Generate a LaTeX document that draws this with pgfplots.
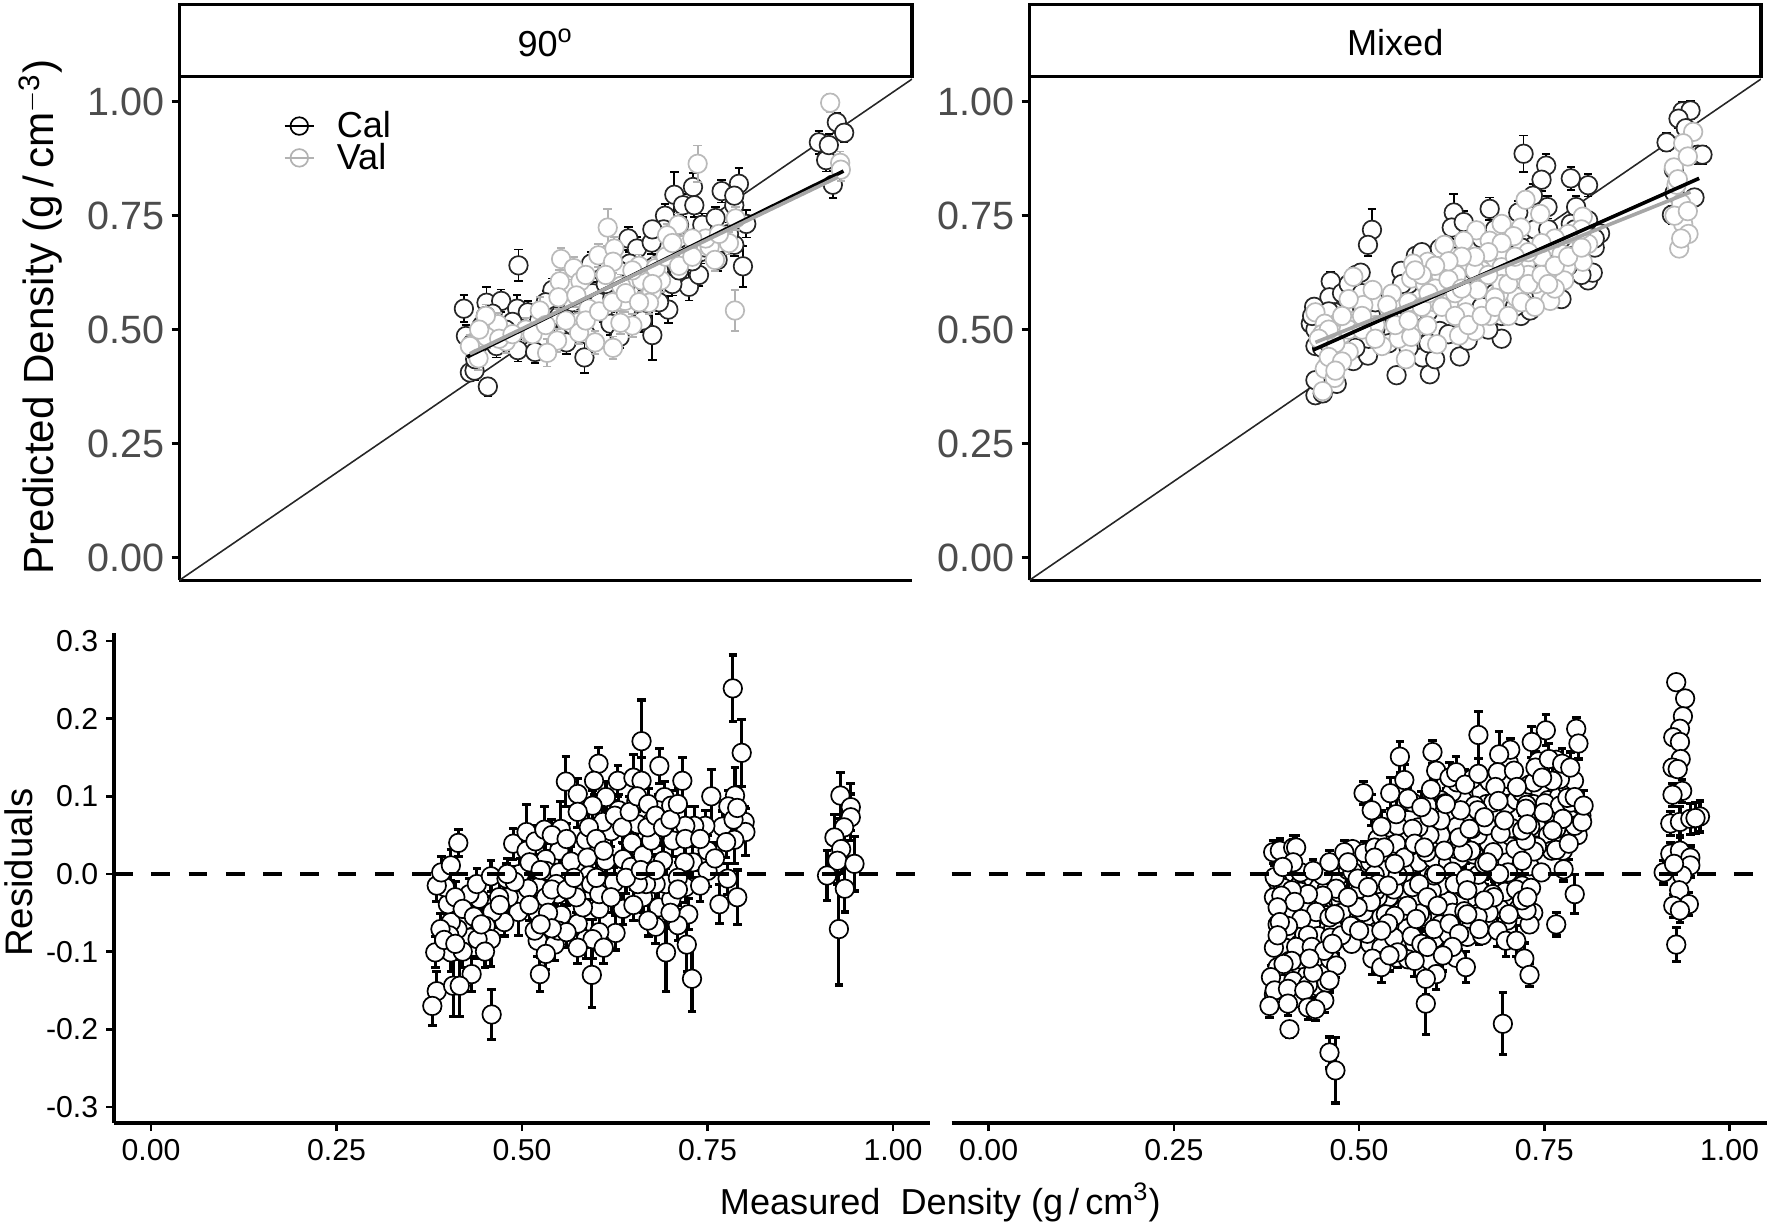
\documentclass[border=0pt]{standalone}
\usepackage{pgfplots}
\usepackage{pgfplotstable}
\usepackage{fontspec}
\setmainfont{Liberation Sans}
\pgfplotsset{compat=1.18}

% measured, predicted, error
\pgfplotstableread[row sep=crcr,header=false]{
.937 .955 .02\\ .948 .932 .02\\ .910 .911 .025\\ .921 .872 .025\\ .931 .818 .03\\ .790 .82 .035\\ .764 .804 .025\\
.693 .796 .05\\ .721 .813 .03\\ .706 .773 .025\\ .723 .773 .025\\ .679 .75 .025\\ .783 .773 .03\\ .801 .732 .03\\
.796 .639 .045\\ .715 .594 .03\\ .684 .544 .03\\ .660 .488 .055\\ .558 .439 .035\\ .624 .70 .025\\ .637 .678 .025\\
.659 .691 .025\\ .459 .641 .035\\ .377 .546 .03\\ .411 .559 .035\\ .433 .563 .025\\ .457 .546 .03\\ .473 .538 .025\\
.450 .517 .025\\ .404 .509 .025\\ .380 .486 .025\\ .386 .406 .02\\ .393 .41 .02\\ .413 .375 .02\\ .394 .435 .02\\
.426 .464 .025\\ .458 .455 .025\\ .484 .451 .025\\ .583 .629 .025\\ .568 .645 .025\\ .586 .542 .025\\ .597 .513 .025\\
.611 .484 .025\\ .746 .72 .025\\ .783 .794 .03\\ .710 .67 .025\\ .732 .67 .025\\ .758 .653 .025\\ .783 .686 .025\\
.510 .587 .025\\ .524 .488 .025\\ .531 .472 .025\\ .553 .521 .025\\ .626 .645 .025\\ .663 .62 .025\\ .692 .645 .025\\
.677 .72 .025\\ .700 .70 .025\\ .735 .73 .025\\ .755 .745 .025\\ .775 .71 .025\\ .44 .50 .025\\ .42 .535 .025\\
.39 .47 .025\\ .50 .56 .025\\ .515 .53 .025\\ .54 .56 .025\\ .57 .58 .025\\ .60 .60 .025\\ .64 .58 .025\\ .67 .56 .025\\
.62 .54 .025\\ .645 .52 .025\\ .69 .60 .025\\ .73 .62 .025\\ .925 .905 .025\\
.41 .53 .025\\ .40 .47 .025\\ .43 .49 .025\\ .47 .50 .025\\ .49 .52 .025\\ .52 .53 .025\\ .54 .51 .025\\ .56 .49 .025\\
.58 .56 .025\\ .60 .57 .025\\ .61 .63 .025\\ .65 .60 .025\\ .67 .63 .025\\ .70 .63 .025\\ .72 .65 .025\\ .74 .68 .025\\
.76 .69 .025\\ .70 .73 .025\\ .66 .72 .025\\ .62 .60 .025\\ .59 .60 .025\\
}\calA
\pgfplotstableread[row sep=crcr,header=false]{
.927 .998 .02\\ .728 .864 .04\\ .942 .866 .025\\ .943 .851 .025\\ .784 .542 .045\\ .593 .724 .04\\ .523 .655 .025\\
.542 .635 .025\\ .579 .663 .025\\ .603 .678 .025\\ .601 .649 .025\\ .521 .606 .025\\ .552 .606 .025\\ .519 .571 .025\\
.546 .575 .025\\ .613 .596 .025\\ .644 .608 .025\\ .673 .608 .025\\ .659 .583 .025\\ .619 .563 .025\\ .655 .559 .025\\
.699 .73 .025\\ .682 .707 .025\\ .746 .682 .025\\ .775 .69 .025\\ .785 .744 .025\\ .754 .653 .025\\ .564 .546 .025\\
.550 .517 .025\\ .550 .493 .025\\ .517 .476 .025\\ .574 .472 .025\\ .601 .46 .025\\ .630 .509 .025\\ .612 .515 .025\\
.502 .449 .03\\ .491 .542 .03\\ .428 .512 .025\\ .411 .484 .025\\ .386 .464 .025\\ .399 .437 .025\\ .440 .474 .025\\
.47 .50 .025\\ .41 .53 .025\\ .64 .64 .025\\ .665 .635 .025\\
.40 .50 .025\\ .43 .48 .025\\ .45 .49 .025\\ .48 .49 .025\\ .50 .51 .025\\ .53 .52 .025\\ .56 .52 .025\\ .58 .54 .025\\
.60 .56 .025\\ .62 .58 .025\\ .64 .56 .025\\ .66 .60 .025\\ .68 .66 .025\\ .70 .64 .025\\ .72 .66 .025\\ .74 .70 .025\\
.76 .71 .025\\ .72 .70 .025\\ .69 .69 .025\\ .63 .63 .025\\ .59 .62 .025\\ .56 .62 .025\\
}\valA
\pgfplotstableread[row sep=crcr,header=false]{
.465 .719 .045\\ .459 .686 .025\\ .693 .886 .04\\ .727 .86 .025\\ .720 .829 .025\\ .764 .832 .025\\ .790 .817 .025\\
.588 .757 .04\\ .642 .765 .025\\ .585 .724 .025\\ .603 .736 .025\\ .685 .757 .025\\ .729 .769 .025\\ .772 .769 .025\\
.707 .794 .025\\ .932 .979 .02\\ .944 .981 .02\\ .926 .963 .02\\ .908 .911 .02\\ .937 .942 .02\\ .955 .884 .02\\
.962 .884 .02\\ .919 .851 .02\\ .926 .752 .02\\ .916 .752 .02\\ .93 .76 .02\\ .403 .606 .02\\ .401 .571 .02\\
.441 .62 .02\\ .448 .625 .02\\ .378 .55 .02\\ .373 .513 .02\\ .423 .542 .02\\ .409 .538 .02\\ .380 .464 .02\\
.380 .356 .02\\ .391 .36 .02\\ .412 .381 .02\\ .437 .431 .02\\ .459 .443 .02\\ .380 .389 .02\\ .502 .4 .02\\
.552 .402 .02\\ .597 .441 .02\\ .541 .439 .02\\ .560 .435 .02\\ .660 .48 .03\\ .689 .53 .025\\ .703 .542 .02\\
.750 .567 .02\\ .790 .608 .025\\ .797 .625 .02\\ .808 .711 .02\\ .764 .732 .02\\ .509 .629 .02\\ .531 .662 .02\\
.552 .653 .02\\ .725 .637 .02\\ .711 .587 .02\\ .567 .497 .02\\ .609 .476 .02\\ .437 .517 .02\\ .768 .678 .02\\
.653 .645 .02\\ .617 .62 .02\\ .567 .678 .02\\ .52 .60 .02\\ .50 .52 .02\\ .47 .50 .02\\ .53 .50 .02\\ .58 .56 .02\\
.63 .55 .02\\ .65 .58 .02\\ .70 .60 .02\\ .74 .63 .02\\ .78 .65 .02\\ .80 .68 .02\\ .76 .70 .02\\ .92 .80 .02\\ .95 .79 .02\\
.40 .54 .02\\ .39 .50 .02\\ .42 .58 .02\\ .43 .60 .02\\ .45 .58 .02\\ .47 .56 .02\\ .49 .54 .02\\ .51 .56 .02\\ .53 .54 .02\\
.55 .54 .02\\ .57 .62 .02\\ .59 .66 .02\\ .61 .68 .02\\ .63 .70 .02\\ .65 .72 .02\\ .67 .70 .02\\ .69 .68 .02\\ .71 .72 .02\\
.73 .72 .02\\ .75 .70 .02\\ .77 .72 .02\\ .79 .74 .02\\ .80 .70 .02\\ .78 .62 .02\\ .76 .64 .02\\ .72 .58 .02\\ .68 .55 .02\\
.66 .53 .02\\ .64 .50 .02\\ .61 .52 .02\\ .58 .49 .02\\ .55 .47 .02\\ .52 .46 .02\\ .49 .47 .02\\ .46 .48 .02\\ .44 .46 .02\\
.42 .44 .02\\ .40 .43 .02\\ .39 .46 .02\\ .41 .50 .02\\ .38 .50 .02\\ .375 .53 .02\\ .40 .47 .02\\ .545 .62 .02\\ .53 .62 .02\\
.51 .60 .02\\ .54 .67 .02\\ .60 .60 .02\\ .65 .64 .02\\ .69 .61 .02\\ .74 .68 .02\\ .78 .70 .02\\ .66 .67 .02\\
}\calB
\pgfplotstableread[row sep=crcr,header=false]{
.948 .934 .02\\ .933 .909 .02\\ .919 .856 .02\\ .923 .818 .02\\ .930 .777 .02\\ .933 .732 .02\\ .941 .71 .02\\
.927 .678 .02\\ .696 .785 .02\\ .718 .754 .02\\ .622 .718 .02\\ .660 .732 .02\\ .689 .724 .02\\ .678 .705 .02\\
.642 .695 .02\\ .603 .695 .02\\ .574 .686 .02\\ .782 .748 .02\\ .790 .688 .02\\ .782 .649 .02\\ .757 .637 .02\\
.75 .666 .02\\ .754 .608 .02\\ .711 .6 .02\\ .733 .563 .02\\ .682 .571 .02\\ .656 .579 .02\\ .642 .53 .02\\
.620 .497 .02\\ .596 .487 .02\\ .563 .468 .02\\ .548 .509 .02\\ .606 .538 .02\\ .581 .559 .02\\ .567 .608 .02\\
.549 .649 .02\\ .527 .645 .02\\ .524 .612 .02\\ .545 .6 .02\\ .606 .645 .02\\ .592 .62 .02\\ .624 .587 .02\\
.660 .637 .02\\ .696 .645 .02\\ .495 .579 .02\\ .488 .554 .02\\ .452 .554 .02\\ .466 .587 .02\\ .430 .567 .02\\
.437 .616 .02\\ .380 .538 .02\\ .412 .513 .02\\ .394 .513 .02\\ .409 .447 .02\\ .430 .451 .02\\ .394 .414 .02\\
.409 .394 .02\\ .391 .365 .02\\ .516 .435 .02\\ .505 .48 .02\\ .480 .464 .02\\ .524 .484 .02\\ .72 .66 .02\\ .70 .62 .02\\
.74 .59 .02\\ .66 .60 .02\\ .63 .63 .02\\ .59 .58 .02\\ .56 .56 .02\\ .52 .56 .02\\ .47 .51 .02\\ .44 .52 .02\\ .42 .49 .02\\
.39 .49 .02\\ .41 .47 .02\\ .43 .50 .02\\ .45 .50 .02\\ .47 .48 .02\\ .50 .51 .02\\ .52 .52 .02\\ .54 .55 .02\\ .56 .59 .02\\
.58 .61 .02\\ .60 .59 .02\\ .62 .63 .02\\ .64 .62 .02\\ .65 .57 .02\\ .67 .60 .02\\ .68 .63 .02\\ .70 .60 .02\\ .72 .62 .02\\
.74 .64 .02\\ .76 .66 .02\\ .78 .68 .02\\ .78 .72 .02\\ .76 .71 .02\\ .74 .70 .02\\ .72 .69 .02\\ .70 .67 .02\\ .68 .66 .02\\
.66 .69 .02\\ .64 .67 .02\\ .62 .66 .02\\ .60 .66 .02\\ .58 .65 .02\\ .56 .64 .02\\ .54 .62 .02\\ .53 .63 .02\\ .55 .58 .02\\
.57 .55 .02\\ .59 .53 .02\\ .61 .51 .02\\ .63 .53 .02\\ .65 .55 .02\\ .67 .53 .02\\ .69 .56 .02\\ .71 .55 .02\\ .73 .60 .02\\
.45 .53 .02\\ .42 .53 .02\\ .40 .50 .02\\ .385 .48 .02\\ .40 .44 .02\\ .42 .43 .02\\ .41 .41 .02\\ .92 .75 .02\\ .94 .76 .02\\
.93 .70 .02\\ .925 .83 .02\\ .94 .88 .02\\
}\valB
% measured, residual, error
\pgfplotstableread[row sep=crcr,header=false]{
.784 .239 .043\\ .796 .156 .043\\ .661 .171 .053\\ .603 .142 .021\\ .685 .139 .023\\ .559 .119 .032\\ .575 .103 .02\\
.597 .12 .018\\ .629 .12 .02\\ .650 .124 .03\\ .661 .12 .03\\ .716 .12 .03\\ .613 .099 .02\\ .630 .082 .02\\ .654 .094 .02\\
.595 .088 .02\\ .675 .067 .02\\ .692 .099 .02\\ .683 .082 .02\\ .701 .088 .02\\ .755 .1 .035\\ .787 .101 .036\\ .778 .087 .02\\
.800 .067 .02\\ .801 .054 .03\\ .770 .061 .02\\ .747 .062 .02\\ .732 .062 .025\\ .720 .062 .025\\ .786 .044 .03\\ .775 .041 .02\\
.750 .03 .02\\ .730 .015 .02\\ .719 .015 .02\\ .750 .004 .02\\ .777 -.006 .02\\ .790 -.03 .035\\ .766 -.039 .025\\ .720 -.017 .02\\
.724 -.052 .02\\ .710 -.066 .02\\ .722 -.091 .035\\ .729 -.135 .042\\ .694 -.101 .05\\ .680 -.068 .022\\ .684 -.043 .02\\
.701 -.033 .02\\ .694 -.013 .02\\ .680 -.013 .02\\ .663 -.03 .02\\ .667 -.013 .015\\ .656 -.013 .015\\ .636 -.045 .02\\
.626 -.076 .022\\ .604 -.075 .022\\ .586 -.084 .025\\ .594 -.13 .042\\ .595 -.084 .025\\ .575 -.064 .02\\ .604 -.045 .02\\
.582 -.043 .02\\ .573 -.03 .02\\ .553 -.053 .02\\ .548 -.026 .02\\ .522 -.017 .02\\ .521 -.05 .02\\ .521 -.086 .02\\
.544 -.091 .02\\ .532 -.103 .02\\ .549 -.073 .02\\ .517 -.073 .02\\ .524 -.129 .022\\ .494 -.034 .02\\ .495 -.049 .03\\
.476 -.062 .018\\ .460 -.049 .02\\ .451 -.067 .02\\ .458 -.084 .035\\ .459 -.181 .032\\ .432 -.129 .022\\ .430 -.082 .025\\
.440 -.084 .025\\ .424 -.059 .02\\ .442 -.032 .02\\ .429 -.026 .02\\ .439 -.013 .02\\ .413 -.071 .02\\ .404 -.062 .02\\
.402 -.079 .02\\ .390 -.071 .02\\ .404 -.101 .025\\ .383 -.101 .02\\ .385 -.151 .025\\ .379 -.17 .025\\ .407 -.144 .04\\
.416 -.144 .04\\ .400 -.039 .02\\ .396 -.017 .02\\ .385 -.015 .02\\ .391 .002 .02\\ .404 .011 .02\\ .414 .04 .017\\
.458 -.003 .02\\ .479 -.006 .02\\ .488 .039 .02\\ .506 .054 .035\\ .506 .03 .02\\ .518 .042 .02\\ .530 .057 .03\\ .552 .058 .035\\
.550 .03 .02\\ .532 .019 .02\\ .497 0 .02\\ .532 .004 .02\\ .550 .002 .02\\ .566 .016 .02\\ .586 .044 .02\\ .588 .021 .02\\
.590 -.002 .02\\ .613 .017 .02\\ .620 .055 .02\\ .609 .067 .02\\ .648 .04 .02\\ .636 .019 .02\\ .647 .009 .02\\ .663 .024 .02\\
.674 .043 .02\\ .690 .017 .02\\ .656 .064 .02\\ .669 .06 .02\\ .703 .043 .02\\ .593 -.013 .02\\ .624 -.011 .02\\ .604 -.026 .02\\
.546 -.013 .02\\ .532 -.03 .02\\ .508 -.019 .02\\ .482 -.03 .02\\ .469 -.03 .02\\ .929 .101 .03\\ .943 .086 .03\\ .943 .073 .03\\
.934 .06 .03\\ .921 .047 .03\\ .930 .032 .03\\ .925 .017 .03\\ .948 .013 .035\\ .911 -.002 .032\\ .935 -.019 .03\\ .927 -.071 .072\\
.54 .05 .02\\ .56 .045 .02\\ .575 .08 .02\\ .59 .06 .02\\ .60 .045 .02\\ .61 .03 .02\\ .625 .075 .02\\ .635 .06 .02\\ .645 .08 .02\\
.655 .10 .02\\ .67 .09 .02\\ .68 .075 .02\\ .69 .06 .02\\ .70 .07 .02\\ .71 .09 .02\\ .72 .045 .02\\ .74 .045 .02\\ .76 .02 .02\\
.785 .07 .02\\ .79 .085 .02\\ .51 .015 .02\\ .525 .005 .02\\ .54 -.02 .02\\ .56 -.02 .02\\ .57 -.005 .02\\ .6 -.005 .02\\ .62 -.03 .02\\
.64 -.005 .02\\ .66 .005 .02\\ .68 .005 .02\\ .71 -.005 .02\\ .74 -.015 .02\\ .535 -.05 .02\\ .56 -.075 .02\\ .575 -.095 .02\\
.61 -.095 .02\\ .54 -.07 .02\\ .525 -.065 .02\\ .41 -.03 .02\\ .42 -.045 .02\\ .435 -.055 .02\\ .445 -.065 .02\\ .45 -.1 .02\\
.42 -.1 .02\\ .395 -.085 .02\\ .41 -.09 .02\\ .47 -.04 .02\\ .49 -.01 .02\\ .48 .0 .02\\ .51 -.04 .02\\ .65 -.04 .02\\ .67 -.06 .02\\
.70 -.05 .02\\ .71 -.02 .02\\
}\resA
\pgfplotstableread[row sep=crcr,header=false]{
.665 .105 .02\\ .672 .09 .02\\ .68 .075 .02\\ .695 .105 .02\\ .70 .09 .02\\ .712 .095 .02\\ .72 .105 .02\\ .73 .115 .02\\
.745 .105 .02\\ .755 .095 .02\\ .735 .09 .02\\ .77 .1 .02\\ .78 .115 .02\\ .79 .12 .02\\ .795 .085 .02\\ .80 .075 .02\\
.785 .07 .02\\ .76 .075 .02\\ .74 .06 .02\\ .755 .05 .02\\ .77 .05 .02\\ .785 .055 .02\\ .795 .05 .02\\ .775 .03 .02\\
.76 .03 .02\\ .74 .035 .02\\ .72 .03 .02\\ .705 .035 .02\\ .69 .03 .02\\ .675 .04 .02\\ .66 .05 .02\\ .65 .07 .02\\
.64 .095 .02\\ .625 .105 .02\\ .61 .095 .02\\ .60 .085 .02\\ .625 .075 .02\\ .61 .05 .02\\ .595 .05 .02\\ .58 .06 .02\\
.57 .045 .02\\ .56 .055 .02\\ .54 .06 .02\\ .525 .045 .02\\ .545 .035 .02\\ .565 .02 .02\\ .58 .015 .02\\ .60 .02 .02\\
.62 .015 .02\\ .635 .02 .02\\ .655 .025 .02\\ .67 .015 .02\\ .685 .015 .02\\ .70 .015 .02\\ .715 .005 .02\\ .73 .01 .02\\
.705 -.01 .02\\ .72 -.015 .02\\ .715 -.045 .02\\ .735 -.05 .02\\ .73 -.065 .02\\ .70 -.06 .02\\ .69 -.045 .02\\ .675 -.05 .02\\
.66 -.035 .02\\ .66 -.055 .02\\ .65 -.03 .02\\ .635 -.035 .02\\ .62 -.035 .02\\ .61 -.015 .02\\ .595 -.05 .02\\ .575 -.03 .02\\
.56 -.02 .02\\ .54 -.03 .02\\ .525 -.03 .02\\ .51 -.005 .02\\ .51 -.055 .02\\ .53 -.055 .02\\ .545 -.075 .02\\ .565 -.07 .02\\
.585 -.055 .02\\ .61 -.065 .02\\ .63 -.08 .02\\ .65 -.07 .02\\ .515 -.09 .02\\ .53 -.095 .02\\ .56 -.095 .02\\ .575 -.09 .02\\
.59 -.1 .02\\ .60 -.115 .02\\ .49 -.03 .02\\ .475 -.035 .02\\ .47 -.005 .02\\ .485 .005 .02\\ .50 .01 .02\\ .515 .015 .02\\
.53 .005 .02\\ .45 -.01 .02\\ .44 -.02 .02\\ .425 -.005 .02\\ .415 -.015 .02\\ .40 0 .02\\ .39 -.01 .02\\ .385 -.03 .02\\
.39 -.065 .02\\ .40 -.05 .02\\ .405 -.08 .02\\ .42 -.04 .02\\ .435 -.065 .02\\ .45 -.045 .02\\ .445 -.08 .02\\ .42 -.09 .02\\
.40 -.095 .02\\ .385 -.095 .02\\ .39 -.12 .02\\ .415 -.125 .02\\ .43 -.13 .02\\ .45 -.125 .02\\ .42 -.11 .02\\ .445 -.145 .02\\
.415 -.16 .02\\ .385 -.155 .02\\ .465 -.07 .02\\ .48 -.05 .02\\ .49 -.09 .02\\
.398 -.018 .02\\ .421 -.023 .02\\ .456 -.02 .02\\ .473 -.024 .02\\ .502 -.019 .02\\ .522 -.022 .02\\ .547 -.02 .02\\ .572 -.017 .02\\
.598 -.022 .02\\ .642 -.019 .02\\ .662 -.02 .02\\ .697 -.023 .02\\ .712 -.02 .02\\ .732 -.018 .02\\ .412 -.052 .02\\ .431 -.048 .02\\
.456 -.053 .02\\ .476 -.05 .02\\ .506 -.049 .02\\ .536 -.052 .02\\ .557 -.048 .02\\ .582 -.051 .02\\ .626 -.05 .02\\ .642 -.048 .02\\
.702 -.052 .02\\ .726 -.047 .02\\ .426 -.078 .02\\ .461 -.082 .02\\ .476 -.079 .02\\ .511 -.077 .02\\ .547 -.082 .02\\ .571 -.08 .02\\
.602 -.083 .02\\ .621 -.078 .02\\ .646 -.081 .02\\ .666 -.079 .02\\ .406 -.112 .02\\ .441 -.108 .02\\ .461 -.11 .02\\ .526 -.112 .02\\
.551 -.108 .02\\ .566 -.11 .02\\ .596 -.112 .02\\ .631 -.108 .02\\ .396 -.142 .02\\ .411 -.138 .02\\ .431 -.143 .02\\ .456 -.14 .02\\
.421 .002 .02\\ .451 -.002 .02\\ .491 .003 .02\\ .521 -.001 .02\\ .561 .002 .02\\ .601 -.002 .02\\ .626 .003 .02\\ .661 -.001 .02\\
.701 .002 .02\\ .746 .002 .02\\ .491 .032 .02\\ .531 .028 .02\\ .561 .031 .02\\ .591 .028 .02\\ .631 .032 .02\\ .651 .03 .02\\
.681 .028 .02\\ .711 .032 .02\\ .736 .029 .02\\ .766 .031 .02\\ .552 .062 .02\\ .572 .058 .02\\ .632 .061 .02\\ .652 .058 .02\\
.672 .062 .02\\ .706 .059 .02\\ .731 .061 .02\\ .766 .058 .02\\ .791 .062 .02\\ .572 .092 .02\\ .592 .088 .02\\ .616 .091 .02\\
.656 .088 .02\\ .681 .092 .02\\ .726 .089 .02\\ .751 .091 .02\\ .771 .088 .02\\ .786 .092 .02\\ .632 .118 .02\\ .652 .122 .02\\
.676 .119 .02\\ .702 .122 .02\\ .736 .118 .02\\ .771 .122 .02\\ .781 .098 .02\\ .742 .145 .02\\ .766 .147 .02\\ .702 .143 .02\\
.928 .247 .018\\ .940 .226 .015\\ .937 .203 .015\\ .933 .187 .015\\ .924 .176 .015\\ .933 .17 .015\\ .934 .148 .015\\
.923 .137 .015\\ .930 .135 .015\\ .936 .107 .015\\ .923 .102 .015\\ .920 .065 .015\\ .933 .067 .02\\ .947 .071 .02\\
.960 .074 .02\\ .954 .072 .02\\ .920 .026 .015\\ .933 .03 .02\\ .947 .021 .015\\ .947 .011 .015\\ .911 .002 .015\\
.936 -.002 .015\\ .925 .013 .015\\ .932 -.021 .015\\ .945 -.039 .015\\ .924 -.041 .015\\ .933 -.047 .015\\ .928 -.091 .022\\
.661 .179 .03\\ .793 .187 .015\\ .796 .168 .02\\ .752 .185 .02\\ .733 .17 .02\\ .704 .16 .015\\ .689 .154 .03\\ .599 .157 .015\\
.555 .151 .02\\ .561 .121 .02\\ .506 .104 .015\\ .517 .082 .02\\ .542 .104 .02\\ .566 .097 .015\\ .530 .061 .02\\ .597 .109 .02\\
.604 .133 .02\\ .622 .124 .02\\ .631 .131 .02\\ .643 .115 .02\\ .661 .129 .02\\ .687 .131 .02\\ .709 .133 .02\\ .684 .112 .02\\
.713 .112 .02\\ .688 .094 .02\\ .738 .137 .02\\ .756 .148 .02\\ .774 .142 .02\\ .785 .137 .02\\ .761 .12 .02\\ .747 .124 .02\\
.791 .099 .02\\ .801 .067 .02\\ .803 .088 .02\\ .775 .071 .02\\ .749 .079 .02\\ .725 .084 .02\\ .783 .039 .02\\ .761 .056 .02\\
.384 .028 .015\\ .393 .03 .015\\ .411 .034 .015\\ .415 .034 .015\\ .411 .015 .015\\ .386 -.004 .015\\ .397 .009 .015\\
.438 .004 .015\\ .460 .015 .015\\ .480 .028 .015\\ .485 .015 .015\\ .507 .027 .015\\ .521 .034 .015\\ .498 -.006 .015\\
.469 -.019 .015\\ .451 -.028 .015\\ .431 -.026 .015\\ .409 -.021 .015\\ .395 -.028 .015\\ .413 -.036 .015\\ .390 -.043 .015\\
.442 -.049 .015\\ .460 -.056 .015\\ .422 -.058 .015\\ .404 -.067 .015\\ .393 -.062 .015\\ .390 -.079 .015\\ .431 -.079 .015\\
.415 -.094 .015\\ .436 -.094 .015\\ .453 -.099 .015\\ .464 -.09 .015\\ .469 -.118 .015\\ .438 -.127 .015\\ .409 -.112 .015\\
.398 -.116 .015\\ .433 -.109 .015\\ .381 -.133 .015\\ .386 -.15 .015\\ .404 -.148 .015\\ .426 -.15 .015\\ .460 -.137 .015\\
.453 -.163 .015\\ .379 -.17 .015\\ .404 -.167 .015\\ .431 -.172 .015\\ .441 -.174 .015\\ .406 -.2 .01\\ .460 -.23 .02\\ .468 -.253 .042\\
.489 -.067 .02\\ .500 -.073 .02\\ .467 -.052 .02\\ .516 -.036 .02\\ .498 -.043 .02\\ .485 -.03 .02\\ .525 -.013 .02\\ .552 -.002 .02\\
.581 -.013 .02\\ .539 -.015 .02\\ .512 -.017 .02\\ .550 .039 .02\\ .561 .021 .02\\ .534 .034 .02\\ .521 .021 .02\\ .548 .013 .02\\
.575 .039 .02\\ .588 .034 .02\\ .610 .069 .02\\ .595 .073 .02\\ .615 .03 .02\\ .640 .028 .02\\ .604 0 .02\\ .629 -.013 .02\\
.644 -.006 .02\\ .646 -.021 .02\\ .689 0 .02\\ .680 -.026 .02\\ .669 .013 .02\\ .673 .015 .02\\ .720 .017 .02\\ .691 .052 .02\\
.725 .043 .02\\ .720 .056 .02\\ .635 .047 .02\\ .649 .058 .02\\ .660 .082 .02\\ .637 .082 .02\\ .617 .09 .02\\ .584 .086 .02\\
.550 .077 .02\\ .696 .069 .02\\ .727 .064 .02\\ .669 .073 .02\\ .592 -.03 .02\\ .606 -.041 .02\\ .565 -.041 .02\\ .577 -.058 .02\\
.548 -.054 .02\\ .539 -.064 .02\\ .530 -.073 .02\\ .601 -.071 .02\\ .622 -.064 .02\\ .646 -.052 .02\\ .635 -.077 .02\\ .626 -.094 .02\\
.584 -.09 .02\\ .592 -.094 .02\\ .552 -.101 .02\\ .518 -.109 .02\\ .530 -.12 .02\\ .541 -.105 .02\\ .575 -.112 .02\\ .613 -.105 .02\\
.644 -.12 .02\\ .604 -.129 .02\\ .590 -.135 .02\\ .590 -.167 .04\\ .694 -.193 .04\\ .766 -.065 .015\\ .791 -.026 .025\\ .776 .006 .015\\
.662 -.071 .02\\ .687 -.073 .02\\ .698 -.086 .02\\ .712 -.086 .02\\ .723 -.109 .02\\ .730 -.13 .015\\ .682 -.03 .02\\ .720 -.034 .02\\
.727 -.03 .02\\ .669 -.034 .02\\
}\resB

\pgfplotsset{
  panel/.style={
    scale only axis, anchor=south west, clip mode=individual,
    axis lines=left, axis line style={-, line width=1.5pt, black},
    tick align=outside, major tick length=3.5pt,
    every tick/.style={line width=1.2pt, black},
    /pgf/number format/assume math mode=true,
    /pgf/number format/fixed, /pgf/number format/fixed zerofill,
  },
  toppanel/.style={
    panel, width=324.5pt, height=223pt,
    xmin=-.05, xmax=1.05, ymin=-.05, ymax=1.055,
    xtick=\empty, ytick={0,.25,.5,.75,1},
    /pgf/number format/precision=2,
    yticklabel style={font=\fontsize{17.5}{18}\selectfont, text=black!70, inner xsep=3pt},
  },
  botpanel/.style={
    panel, width=361.5pt, height=217pt,
    xmin=-.05, xmax=1.05, ymin=-.321, ymax=.31,
    xtick={0,.25,.5,.75,1}, ytick={-.3,-.2,-.1,0,.1,.2,.3},
    xticklabel style={/pgf/number format/precision=2, font=\fontsize{13.4}{15}\selectfont},
    yticklabel style={/pgf/number format/precision=1, font=\fontsize{13.4}{15}\selectfont},
  },
  ebars/.style n args={2}{
    forget plot, only marks, mark=none,
    error bars/.cd, y dir=both, y explicit,
    error bar style={color=#1, line width=#2},
    error mark options={rotate=90, mark size=1.9pt, color=#1, line width=#2},
  },
  pts/.style={
    forget plot, only marks, mark=*, mark size=4.1pt,
    mark options={draw=#1, fill=white, line width=.75pt},
  },
  calleg/.style={legend image code/.code={
    \draw[black, line width=.75pt, fill=white] (6.5pt,0) circle (3.9pt);
    \draw[black, line width=1.2pt] (0,0) -- (13pt,0);}},
  valleg/.style={legend image code/.code={
    \draw[black!30, line width=.75pt, fill=white] (6.5pt,0) circle (3.9pt);
    \draw[black!30, line width=1.2pt] (0,0) -- (13pt,0);}},
}

\begin{document}
\begin{tikzpicture}[x=1pt, y=1pt]
\path[use as bounding box] (0,0) rectangle (784,543.5);

% 90 deg panel
\begin{axis}[toppanel, at={(79.5pt,286.5pt)},
    legend style={draw=none, fill=none, at={(axis cs:.095,1.0)}, anchor=north west,
      font=\fontsize{16}{16}\selectfont, row sep=-3pt},
    legend cell align=left]
\addplot[forget plot, black!85, line width=.7pt] coordinates {(-.05,-.05) (1.05,1.05)};
\addplot[skip coords between index={77}{400}, ebars={black}{.8pt}] table[x index=0, y index=1, y error index=2] {\calA};
\addplot[pts=black!85] table[x index=0, y index=1] {\calA};
\addplot[skip coords between index={46}{400}, ebars={black!30}{.8pt}] table[x index=0, y index=1, y error index=2] {\valA};
\addplot[pts=black!27] table[x index=0, y index=1] {\valA};
\addplot[calleg, black, line width=1.6pt] coordinates {(.382,.44) (.947,.848)};
\addlegendentry{\hspace*{7.5pt}Cal}
\addplot[valleg, black!35, line width=1.6pt] coordinates {(.386,.447) (.939,.835)};
\addlegendentry{\hspace*{7.5pt}Val}
\end{axis}

% Mixed panel
\begin{axis}[toppanel, width=324pt, at={(456pt,286.5pt)}]
\addplot[black!85, line width=.7pt] coordinates {(-.05,-.05) (1.05,1.05)};
\addplot[skip coords between index={27}{400}, ebars={black}{.8pt}] table[x index=0, y index=1, y error index=2] {\calB};
\addplot[pts=black!85] table[x index=0, y index=1] {\calB};
\addplot[pts=black!27] table[x index=0, y index=1] {\valB};
\addplot[black, line width=1.6pt] coordinates {(.376,.455) (.957,.832)};
\addplot[black!35, line width=1.6pt] coordinates {(.38,.472) (.944,.802)};
\end{axis}

% residuals
\begin{axis}[botpanel, at={(50.5pt,46pt)}]
\addplot[ebars={black}{1.4pt}] table[x index=0, y index=1, y error index=2] {\resA};
\addplot[pts=black] table[x index=0, y index=1] {\resA};
\addplot[black, line width=1.5pt, dash pattern=on 8.4pt off 8.1pt] coordinates {(-.05,0) (1.05,0)};
\end{axis}

\begin{axis}[botpanel, width=361pt, at={(421.5pt,46pt)}, ytick=\empty, axis y line=none]
\addplot[skip coords between index={0}{230}, ebars={black}{1.4pt}] table[x index=0, y index=1, y error index=2] {\resB};
\addplot[pts=black] table[x index=0, y index=1] {\resB};
\addplot[black, line width=1.5pt, dash pattern=on 8.4pt off 8.1pt] coordinates {(-.05,0) (1.05,0)};
\end{axis}

% facet strips
\draw[line width=1.5pt, fill=white] (79.5,286.5+223) rectangle (404,541.5);
\draw[line width=1.5pt, fill=white] (456,286.5+223) rectangle (780,541.5);
\node[font=\fontsize{16}{18}\selectfont] at (241.5,524.5) {90\textsuperscript{o}};
\node[font=\fontsize{16}{18}\selectfont] at (618,524.5) {Mixed};

% shared labels
\node[rotate=90, font=\fontsize{18.7}{20}\selectfont] at (18,403) {Predicted Density (g\,/\,cm\textsuperscript{$-$3})};
\node[rotate=90, font=\fontsize{17}{20}\selectfont] at (8.5,157) {Residuals};
\node[font=\fontsize{16}{18}\selectfont] at (416.5,11) {Measured\ \ Density (g\,/\,cm\textsuperscript{3})};
\end{tikzpicture}
\end{document}
